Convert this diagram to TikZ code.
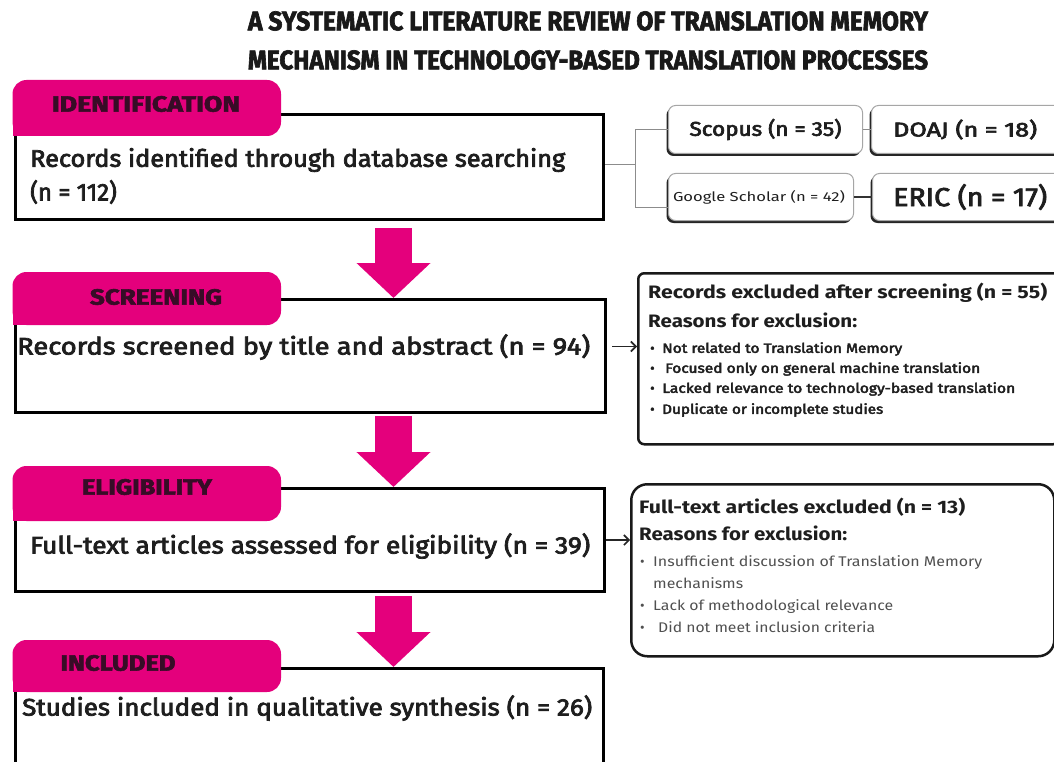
\documentclass[tikz,border=0pt]{standalone}
\usepackage{fontspec}
\usepackage{graphicx}
\setmainfont{Fira Sans}
\newfontfamily\medfont[FakeBold=3]{Fira Sans}
\newfontfamily\heavyfont[FakeBold=2.5]{Fira Sans}
\usetikzlibrary{arrows.meta,calc}
\definecolor{tabpink}{RGB}{228,0,124}
\definecolor{tabtext}{RGB}{55,12,38}
\definecolor{txt}{RGB}{30,30,30}
\definecolor{soft}{RGB}{80,80,80}
\definecolor{linegray}{RGB}{140,140,140}
\newcommand\wfit[2]{\resizebox{#1}{\height}{#2}}
\begin{document}
\begin{tikzpicture}[x=1pt,y=-1pt,
  mainbox/.style={draw=black, line width=3pt, fill=white, anchor=north west, inner sep=0pt},
  tablabel/.style={font=\heavyfont\bfseries\fontsize{22}{22}\selectfont, text=tabtext, inner sep=0pt},
  maintext/.style={font=\medfont\fontsize{24}{24}\selectfont, text=txt, anchor=west, inner sep=0pt},
  fatarrow/.style={draw=tabpink, line width=37pt, -{Triangle[width=72pt,length=35pt]}},
  dbbox/.style={draw=black!35, line width=1pt, fill=white, rounded corners=7pt, anchor=north west, inner sep=0pt,
     preaction={fill=black!85, transform canvas={xshift=-2pt,yshift=-2.5pt}}},
  dbtext/.style={font=\medfont\fontsize{19}{19}\selectfont, text=txt, inner sep=0pt},
  graylink/.style={draw=linegray, line width=1pt},
  exbox/.style={draw=black!90, line width=2.5pt, fill=white, anchor=north west, inner sep=0pt},
  exhead/.style={font=\bfseries\fontsize{18}{18}\selectfont, text=txt, anchor=west, inner sep=0pt},
  bulletA/.style={font=\medfont\fontsize{13.5}{13.5}\selectfont, text=txt, anchor=west, inner sep=0pt},
  bulletB/.style={font=\fontsize{14}{14}\selectfont, text=soft, anchor=west, inner sep=0pt},
  smallarrow/.style={draw=black!85, line width=1.6pt, -{Straight Barb[length=5pt,width=10pt]}},
  titletext/.style={text=black!90, inner sep=0pt, font=\heavyfont\bfseries}
]
\useasboundingbox (0,0) rectangle (1054,762);
\fill[white] (0,0) rectangle (1054,762);
\clip (0,0) rectangle (1054,762);

% Title
\node[titletext] (t1) at (588,21) {\resizebox{680pt}{19pt}{A SYSTEMATIC LITERATURE REVIEW OF TRANSLATION MEMORY}};
\node[titletext] (t2) at (588,60) {\resizebox{680pt}{19pt}{MECHANISM IN TECHNOLOGY-BASED TRANSLATION PROCESSES}};

% Identification
\node[mainbox, minimum width=588pt, minimum height=105pt] (id) at (14,113) {};
\fill[tabpink, rounded corners=14pt] (12.5,80) rectangle (281,136);
\fill[tabpink] (12.5,136) rectangle (40,110);
\node[tablabel] (idlab) at (146,104) {\wfit{188pt}{IDENTIFICATION}};
\node[maintext] (idt1) at (30,160) {\wfit{535pt}{Records identified through database searching}};
\node[maintext] (idt2) at (30,192) {(n = 112)};

% Screening
\node[mainbox, minimum width=590pt, minimum height=113pt] (scr) at (14,298) {};
\fill[tabpink, rounded corners=14pt] (12.5,272) rectangle (281,325);
\fill[tabpink] (12.5,325) rectangle (40,300);
\node[tablabel] (scrlab) at (156,297) {\wfit{132pt}{SCREENING}};
\node[maintext] (scrt) at (17,347) {\wfit{573pt}{Records screened by title and abstract (n = 94)}};

% Eligibility
\node[mainbox, minimum width=589pt, minimum height=103pt] (elig) at (14,487) {};
\fill[tabpink, rounded corners=14pt] (12.5,466) rectangle (281,521);
\fill[tabpink] (12.5,521) rectangle (40,495);
\node[tablabel] (eliglab) at (147,487) {\wfit{130pt}{ELIGIBILITY}};
\node[maintext] (eligt) at (30,546) {\wfit{560pt}{Full-text articles assessed for eligibility (n = 39)}};

% Included
\node[mainbox, minimum width=588pt, minimum height=105pt] (incl) at (14,667) {};
\fill[tabpink, rounded corners=14pt] (12.5,640) rectangle (281,692);
\fill[tabpink] (12.5,692) rectangle (40,668);
\node[tablabel] (incllab) at (118,663) {\wfit{115pt}{INCLUDED}};
\node[maintext] (inclt) at (22,708) {\wfit{570pt}{Studies included in qualitative synthesis (n = 26)}};

% Pink arrows
\draw[fatarrow, shorten <=7pt] (id.south -| 393.5,0) -- (scr.north -| 393.5,0);
\draw[fatarrow, shorten <=2pt] (scr.south -| 393.5,0) -- (elig.north -| 393.5,0);
\draw[fatarrow, shorten <=3pt] (elig.south -| 393.5,0) -- (incl.north -| 393.5,0);

% Databases
\node[dbbox, minimum width=194pt, minimum height=48pt] (scopus) at (668,105) {};
\node[dbtext, font=\medfont\fontsize{20}{20}\selectfont] (scopust) at (scopus.center) {\wfit{152pt}{Scopus (n = 35)}};
\node[dbbox, minimum width=200pt, minimum height=48pt] (doaj) at (871,105) {};
\node[dbtext, anchor=west, font=\medfont\fontsize{20}{20}\selectfont] (doajt) at ([xshift=22pt]doaj.west) {\wfit{144pt}{DOAJ (n = 18)}};
\node[dbbox, minimum width=185pt, minimum height=47pt] (gs) at (668,173) {};
\node[dbtext, font=\fontsize{13}{13}\selectfont] (gst) at ([xshift=-2pt]gs.center) {\wfit{172pt}{Google Scholar (n = 42)}};
\node[dbbox, minimum width=200pt, minimum height=47pt] (eric) at (872,173) {};
\node[dbtext, anchor=west, font=\medfont\fontsize{26}{26}\selectfont] (erict) at ([xshift=21pt]eric.west) {\wfit{154pt}{ERIC (n = 17)}};

\coordinate (br) at (635,165);
\draw[graylink] (id.east |- br) -- (br);
\draw[graylink] (br) |- (scopus.west);
\draw[graylink] (br) |- ($(gs.west)+(0,10)$);
\draw[graylink] (scopus.east) -- (doaj.west);
\draw[draw=black!80, line width=1.3pt] (gs.east) -- (eric.west);

% Excluded after screening
\node[exbox, rounded corners=6pt, minimum width=421pt, minimum height=171pt] (ex1) at (637,272) {};
\node[exhead] (ex1h) at (648,293) {\wfit{399pt}{Records excluded after screening (n = 55)}};
\node[exhead] (ex1r) at (648,320) {\wfit{209pt}{Reasons for exclusion:}};
\node[bulletA] (ex1a) at (650,349) {\makebox[12pt][l]{•}\wfit{240pt}{Not related to Translation Memory}};
\node[bulletA] (ex1b) at (650,369) {\makebox[15pt][l]{•}\wfit{315pt}{Focused only on general machine translation}};
\node[bulletA] (ex1c) at (650,389) {\makebox[12pt][l]{•}\wfit{353pt}{Lacked relevance to technology-based translation}};
\node[bulletA] (ex1d) at (650,410) {\makebox[12pt][l]{•}\wfit{221pt}{Duplicate or incomplete studies}};
\draw[smallarrow, shorten <=5pt] ([yshift=9.5pt]scr.east) -- ([yshift=9.5pt]scr.east -| ex1.west);

% Full-text excluded
\node[exbox, rounded corners=16pt, minimum width=423pt, minimum height=172pt] (ex2) at (630,483) {};
\node[exhead] (ex2h) at (639,507) {\wfit{326pt}{Full-text articles excluded (n = 13)}};
\node[exhead] (ex2r) at (639,533) {\wfit{208pt}{Reasons for exclusion:}};
\node[bulletB] (ex2a) at (640,563) {\makebox[13pt][l]{•}\wfit{329pt}{Insufficient discussion of Translation Memory}};
\node[bulletB] (ex2a2) at (653,583) {\wfit{90pt}{mechanisms}};
\node[bulletB] (ex2b) at (640,607) {\makebox[13pt][l]{•}\wfit{240pt}{Lack of methodological relevance}};
\node[bulletB] (ex2c) at (640,627) {\makebox[18pt][l]{•}\wfit{217pt}{Did not meet inclusion criteria}};
\draw[smallarrow] (elig.east) -- (elig.east -| ex2.west);
\end{tikzpicture}
\end{document}
